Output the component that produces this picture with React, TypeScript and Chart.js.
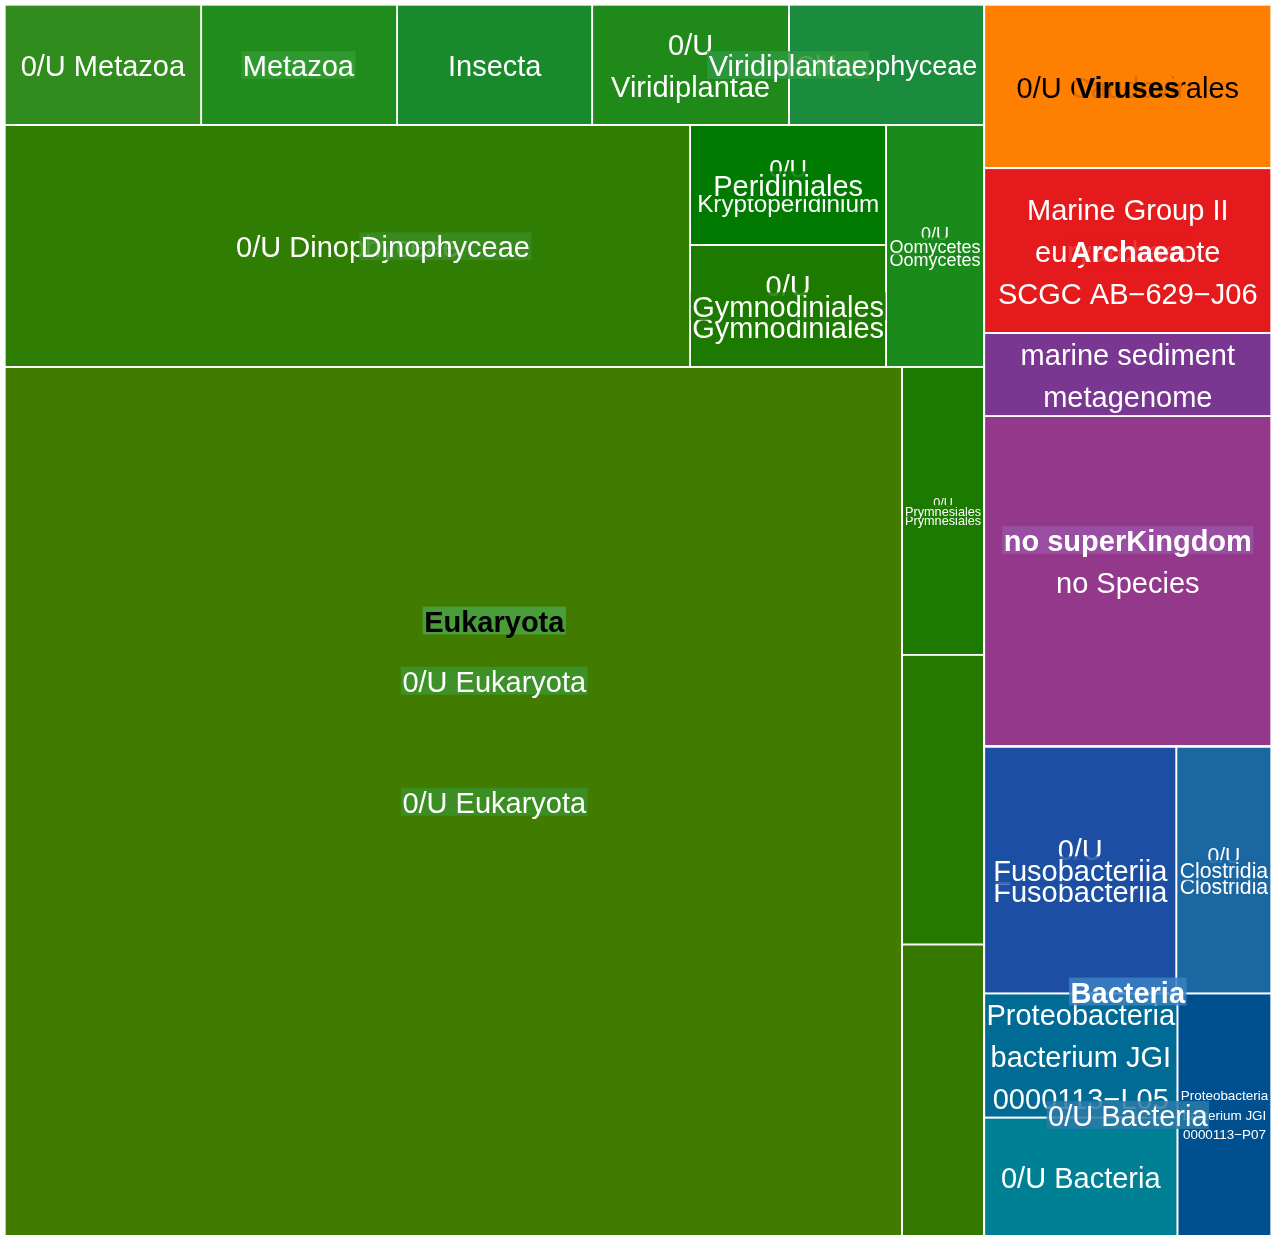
import React, { useEffect, useRef } from "react";
import { Chart, registerables } from "chart.js";

Chart.register(...registerables);

// ---------------- DATA (one entry per leaf) ----------------
const superkingdom = [
  "Eukaryota", "Eukaryota", "Eukaryota", "Eukaryota", "Eukaryota", "Eukaryota", "Eukaryota", "Eukaryota",
  "Eukaryota", "Eukaryota", "Eukaryota", "Eukaryota", "Eukaryota",
  "Bacteria", "Bacteria", "Bacteria", "Bacteria", "Bacteria",
  "no superKingdom", "no superKingdom", "Archaea", "Viruses",
];
const level2: (string | null)[] = [
  "0/U Eukaryota", "0/U Eukaryota", "0/U Eukaryota", "0/U Eukaryota", "0/U Eukaryota", "0/U Eukaryota", "0/U Eukaryota", "0/U Eukaryota",
  "Metazoa", "Metazoa", "Metazoa", "Viridiplantae", "Viridiplantae",
  "0/U Bacteria", "0/U Bacteria", "0/U Bacteria", "Fusobacteriia", "Clostridia",
  null, null, null, null,
];
const level3: (string | null)[] = [
  "0/U Eukaryota", "0/U Eukaryota", "0/U Eukaryota", "0/U Eukaryota", "Dinophyceae", "Dinophyceae", "Dinophyceae", "Oomycetes",
  null, null, null, null, null,
  null, null, null, null, null,
  null, null, null, null,
];
const level4: (string | null)[] = [
  null, "Prymnesiales", null, null, null, "Peridiniales", "Gymnodiniales", null,
  null, null, null, null, null,
  null, null, null, null, null,
  null, null, null, null,
];
const leafLabels = [
  "", "0/U Prymnesiales", "", "", "0/U Dinophyceae", "0/U Kryptoperidinium", "0/U Gymnodiniales", "0/U Oomycetes",
  "0/U Metazoa", "Metazoa", "Insecta", "0/U Viridiplantae", "Chlorophyceae",
  "Proteobacteria bacterium JGI 0000113\u2212L05", "0/U Bacteria", "Proteobacteria bacterium JGI 0000113\u2212P07",
  "0/U Fusobacteriia", "0/U Clostridia",
  "no Species", "marine sediment metagenome", "Marine Group II euryarchaeote SCGC AB\u2212629\u2212J06", "0/U Caudovirales",
];
const leafValues = [
  779.9, 23.6, 23.75, 23.9, 165.9, 23.5, 23.9, 23.7,
  23.7, 23.6, 23.5, 23.7, 23.5,
  24.0, 22.9, 22.8, 47.5, 23.5,
  94.9, 23.9, 47.4, 47.0,
];

// ---------------- STYLE ----------------
const leafColors = [
  "#417c00", "#1c7a00", "#267800", "#347800", "#2f7d02", "#007a00", "#1c7a00", "#1a8a1a",
  "#318c1e", "#1f8c1b", "#198a2c", "#1f8a1a", "#1b8b3e",
  "#006b94", "#008094", "#00508f", "#1c4fa3", "#1b67a2",
  "#93388b", "#7a3791", "#e41a1c", "#ff7f00",
];
const nodeColors: Record<string, string> = {
  "Eukaryota": "#4ca443",
  "Eukaryota > 0/U Eukaryota": "#3e952c",
  "Eukaryota > 0/U Eukaryota > 0/U Eukaryota": "#3c9228",
  "Eukaryota > 0/U Eukaryota > Dinophyceae": "#3a8c23",
  "Eukaryota > Metazoa": "#329a32",
  "Eukaryota > Viridiplantae": "#2e9840",
  "Bacteria": "#3a80c2",
  "Bacteria > 0/U Bacteria": "#2a7aa8",
  "no superKingdom": "#9b52a4",
};
const FONT = '"Liberation Sans", Arial, Helvetica, sans-serif';
const BASE = 29;

type Rect = { x: number; y: number; w: number; h: number };
type TNode = {
  key: string;
  label: string;
  depth: number;
  value: number;
  children: TNode[];
  leafIndex?: number;
  rect?: Rect;
};

function buildTree(): TNode {
  const root: TNode = { key: "", label: "", depth: 0, value: 0, children: [] };
  for (let i = 0; i < leafValues.length; i++) {
    const path = [superkingdom[i], level2[i], level3[i], level4[i]].filter((p) => p !== null) as string[];
    let node = root;
    let key = "";
    path.forEach((name, d) => {
      key = key ? key + " > " + name : name;
      let child = node.children.find((c) => c.key === key && c.leafIndex === undefined);
      if (!child) {
        child = { key, label: name, depth: d + 1, value: 0, children: [] };
        node.children.push(child);
      }
      node = child;
    });
    node.children.push({
      key: key + " > #" + i,
      label: leafLabels[i],
      depth: path.length + 1,
      value: leafValues[i],
      children: [],
      leafIndex: i,
    });
  }
  const sumUp = (n: TNode): number => {
    if (n.leafIndex !== undefined) return n.value;
    n.value = n.children.reduce((s, c) => s + sumUp(c), 0);
    return n.value;
  };
  sumUp(root);
  return root;
}

function worst(row: TNode[], side: number, scale: number): number {
  const s = row.reduce((a, n) => a + n.value * scale, 0);
  const thick = s / side;
  let w = 0;
  for (const n of row) {
    const len = (n.value * scale) / thick;
    w = Math.max(w, thick / len, len / thick);
  }
  return w;
}

// squarified layout, y axis pointing up (origin bottom-left)
function squarify(nodes: TNode[], r: Rect) {
  const items = nodes.slice().sort((a, b) => b.value - a.value);
  const total = items.reduce((a, n) => a + n.value, 0);
  const scale = (r.w * r.h) / total;
  let rect = { ...r };
  let i = 0;
  while (i < items.length) {
    const vertical = rect.w >= rect.h;
    const side = vertical ? rect.h : rect.w;
    let row = [items[i]];
    let best = worst(row, side, scale);
    let j = i + 1;
    while (j < items.length) {
      const cand = row.concat(items[j]);
      const wv = worst(cand, side, scale);
      if (wv <= best) {
        row = cand;
        best = wv;
        j++;
      } else break;
    }
    const rowArea = row.reduce((a, n) => a + n.value * scale, 0);
    const thick = rowArea / side;
    if (vertical) {
      let yTop = rect.y + rect.h;
      for (const n of row) {
        const len = (n.value * scale) / thick;
        n.rect = { x: rect.x, y: yTop - len, w: thick, h: len };
        yTop -= len;
      }
      rect = { x: rect.x + thick, y: rect.y, w: rect.w - thick, h: rect.h };
    } else {
      let x = rect.x;
      for (const n of row) {
        const len = (n.value * scale) / thick;
        n.rect = { x, y: rect.y, w: len, h: thick };
        x += len;
      }
      rect = { x: rect.x, y: rect.y + thick, w: rect.w, h: rect.h - thick };
    }
    i = j;
  }
}

function layout(n: TNode) {
  if (!n.children.length || !n.rect) return;
  squarify(n.children, n.rect);
  n.children.forEach(layout);
}

function splits(words: string[], n: number): string[][] {
  const res: string[][] = [];
  const rec = (start: number, left: number, acc: string[]) => {
    if (left === 1) {
      res.push([...acc, words.slice(start).join(" ")]);
      return;
    }
    for (let k = start + 1; k <= words.length - left + 1; k++) {
      rec(k, left - 1, [...acc, words.slice(start, k).join(" ")]);
    }
  };
  rec(0, n, []);
  return res;
}

function fitLabel(ctx: CanvasRenderingContext2D, text: string, w: number, h: number, bold: boolean) {
  ctx.font = `${bold ? "bold " : ""}${BASE}px ${FONT}`;
  const mw = (s: string) => ctx.measureText(s).width;
  const words = text.split(" ");
  let best: { lines: string[]; s: number } | null = null;
  for (let n = 1; n <= words.length; n++) {
    let chosen: string[] | null = null;
    let cMax = Infinity;
    let cRange = Infinity;
    for (const cand of splits(words, n)) {
      const ws = cand.map(mw);
      const mx = Math.max(...ws);
      const rg = mx - Math.min(...ws);
      if (mx < cMax - 0.01 || (Math.abs(mx - cMax) <= 0.01 && rg < cRange)) {
        chosen = cand;
        cMax = mx;
        cRange = rg;
      }
    }
    if (!chosen) continue;
    let s = 1;
    if (cMax > w - 2) s = Math.min(s, (0.93 * w) / cMax);
    const blockH = n * 1.35 * BASE;
    if (blockH > h) s = Math.min(s, h / blockH);
    if (!best || s > best.s + 1e-6) best = { lines: chosen, s };
  }
  return { lines: best!.lines, size: BASE * best!.s };
}

function hexToRgb(hex: string) {
  const v = parseInt(hex.slice(1), 16);
  return { r: (v >> 16) & 255, g: (v >> 8) & 255, b: v & 255 };
}
function withAlpha(hex: string, a: number) {
  const { r, g, b } = hexToRgb(hex);
  return `rgba(${r},${g},${b},${a})`;
}
function textColorFor(hex: string) {
  const { r, g, b } = hexToRgb(hex);
  return 0.299 * r + 0.587 * g + 0.114 * b > 120 ? "#000000" : "#ffffff";
}

const treemapPlugin = {
  id: "treemapCells",
  afterDraw(chart: any) {
    const { ctx, chartArea, scales } = chart;
    const W = chartArea.right - chartArea.left;
    const H = chartArea.bottom - chartArea.top;
    const root = buildTree();
    root.rect = { x: 0, y: 0, w: W, h: H };
    layout(root);
    const toPx = (r: Rect) => {
      const x0 = scales.x.getPixelForValue(r.x / W);
      const x1 = scales.x.getPixelForValue((r.x + r.w) / W);
      const y0 = scales.y.getPixelForValue((r.y + r.h) / H);
      const y1 = scales.y.getPixelForValue(r.y / H);
      return { left: x0, top: y0, width: x1 - x0, height: y1 - y0 };
    };
    const leaves: TNode[] = [];
    const internals: TNode[] = [];
    const walk = (n: TNode) => {
      if (n.leafIndex !== undefined) leaves.push(n);
      else if (n.depth > 0) internals.push(n);
      n.children.forEach(walk);
    };
    walk(root);

    const firstLeafColor = (n: TNode): string =>
      n.leafIndex !== undefined ? leafColors[n.leafIndex] : firstLeafColor(n.children[0]);

    ctx.save();
    for (const lf of leaves) {
      const b = toPx(lf.rect!);
      ctx.fillStyle = leafColors[lf.leafIndex!];
      ctx.fillRect(b.left, b.top, b.width, b.height);
    }
    ctx.strokeStyle = "#ffffff";
    ctx.lineWidth = 1.6;
    for (const lf of leaves) {
      const b = toPx(lf.rect!);
      ctx.strokeRect(b.left, b.top, b.width, b.height);
    }
    ctx.lineWidth = 2;
    for (const n of internals.filter((x) => x.depth === 1)) {
      const b = toPx(n.rect!);
      ctx.strokeRect(b.left, b.top, b.width, b.height);
    }

    ctx.textAlign = "center";
    ctx.textBaseline = "alphabetic";
    const drawLabel = (text: string, rect: Rect, bold: boolean, bg: string | null, fg: string) => {
      if (!text) return;
      const b = toPx(rect);
      const fit = fitLabel(ctx, text, b.width, b.height, bold);
      const size = fit.size;
      ctx.font = `${bold ? "bold " : ""}${size}px ${FONT}`;
      const lh = size * 1.45;
      const cx = b.left + b.width / 2;
      const cy = b.top + b.height / 2;
      const n = fit.lines.length;
      fit.lines.forEach((line, i) => {
        const y = cy + (i - (n - 1) / 2) * lh;
        const base = y + 0.39 * size;
        const tw = ctx.measureText(line).width;
        if (bg) {
          ctx.fillStyle = withAlpha(bg, 0.86);
          ctx.fillRect(cx - tw / 2 - 1.5, base - 0.86 * size, tw + 3, 0.96 * size);
        }
        ctx.fillStyle = fg;
        ctx.fillText(line, cx, base);
      });
    };
    for (const lf of leaves) {
      const c = leafColors[lf.leafIndex!];
      drawLabel(lf.label, lf.rect!, false, null, textColorFor(c));
    }
    const sorted = internals.slice().sort((a, b) => b.depth - a.depth);
    for (const n of sorted) {
      const bg = nodeColors[n.key] ?? firstLeafColor(n);
      drawLabel(n.label, n.rect!, n.depth === 1, bg, textColorFor(bg));
    }
    ctx.restore();
  },
};

export default function App() {
  const ref = useRef<HTMLCanvasElement>(null);
  useEffect(() => {
    document.body.style.margin = "0";
    const canvas = ref.current!;
    const chart = new Chart(canvas, {
      type: "scatter",
      data: { datasets: [{ data: [] }] },
      options: {
        animation: false,
        responsive: false,
        maintainAspectRatio: false,
        devicePixelRatio: 1,
        layout: { padding: { left: 4.5, right: 8.5, top: 4.5, bottom: 0 } },
        plugins: { legend: { display: false }, tooltip: { enabled: false } },
        scales: {
          x: { type: "linear", min: 0, max: 1, display: false },
          y: { type: "linear", min: 0, max: 1, display: false },
        },
      },
      plugins: [treemapPlugin],
    } as any);
    return () => chart.destroy();
  }, []);
  return (
    <canvas
      ref={ref}
      width={1280}
      height={1236}
      style={{ display: "block", width: 1280, height: 1236 }}
    />
  );
}
